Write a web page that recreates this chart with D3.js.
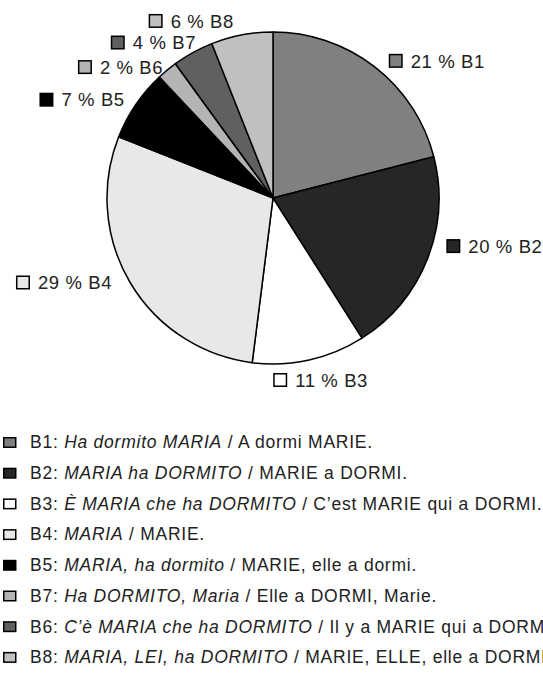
<!DOCTYPE html>
<html>
<head>
<meta charset="utf-8">
<script src="https://cdn.jsdelivr.net/npm/d3@7"></script>
<style>
  body { margin: 0; background: #fff; }
  svg { display: block; font-family: "Liberation Sans", Arial, sans-serif; }
</style>
</head>
<body>
<svg id="chart" width="543" height="674"></svg>
<script>
// data
const categories = ["B1", "B2", "B3", "B4", "B5", "B6", "B7", "B8"];
const values = [21, 20, 11, 29, 7, 2, 4, 6];
const fills = ["#808080", "#262626", "#ffffff", "#e8e8e8", "#000000", "#b4b4b4", "#606060", "#c0c0c0"];

// legend rows (swatch i takes the colour of slice i, as in the original)
const legendKeys = ["B1", "B2", "B3", "B4", "B5", "B7", "B6", "B8"];
const legendItalic = [
  "Ha dormito MARIA",
  "MARIA ha DORMITO",
  "È MARIA che ha DORMITO",
  "MARIA",
  "MARIA, ha dormito",
  "Ha DORMITO, Maria",
  "C’è MARIA che ha DORMITO",
  "MARIA, LEI, ha DORMITO"
];
const legendPlain = [
  "A dormi MARIE.",
  "MARIE a DORMI.",
  "C’est MARIE qui a DORMI.",
  "MARIE.",
  "MARIE, elle a dormi.",
  "Elle a DORMI, Marie.",
  "Il y a MARIE qui a DORMI.",
  "MARIE, ELLE, elle a DORMI."
];

// label nudges from the slice edge point (layout only)
const labelNudge = [[14, -6], [19, -13], [-36, 20], [-18, 0], [-11, -5], [-4, -3], [3, -10], [-8, -14]];

const svg = d3.select("#chart");
const cx = 273, cy = 198, radius = 166;

const pie = d3.pie().sort(null).value(d => d.value);
const arc = d3.arc().innerRadius(0).outerRadius(radius);

const slices = pie(categories.map((c, i) => ({ key: c, value: values[i], fill: fills[i] })));

const g = svg.append("g").attr("transform", `translate(${cx},${cy})`);

g.selectAll("path.slice")
  .data(slices)
  .join("path")
  .attr("class", "slice")
  .attr("d", arc)
  .attr("fill", d => d.data.fill)
  .attr("stroke", "#000")
  .attr("stroke-width", 1.5)
  .attr("stroke-linejoin", "round");

// slice labels
slices.forEach((d, i) => {
  const mid = (d.startAngle + d.endAngle) / 2;
  const ax = radius * Math.sin(mid);
  const ay = -radius * Math.cos(mid);
  const right = Math.sin(mid) >= 0;
  const [dx, dy] = labelNudge[i];

  const lg = g.append("g");
  const txt = lg.append("text")
    .attr("font-size", 18.5)
    .attr("letter-spacing", 0.6)
    .attr("fill", "#222")
    .attr("dy", "0.36em")
    .text(`${d.data.value} % ${d.data.key}`);
  const w = txt.node().getComputedTextLength();

  const sw = 14, gap = 8;
  const left = right ? ax + dx : ax + dx - w - sw - gap;
  const yc = ay + dy;

  lg.insert("rect", "text")
    .attr("x", left + 0.75)
    .attr("y", yc - sw / 2 + 0.75)
    .attr("width", sw - 1.5)
    .attr("height", sw - 1.5)
    .attr("fill", d.data.fill)
    .attr("stroke", "#000")
    .attr("stroke-width", 1.5);
  txt.attr("x", left + sw + gap).attr("y", yc);
});

// legend
const legendTop = 442, legendStep = 30.7;
const legend = svg.append("g");
legendKeys.forEach((k, i) => {
  const y = legendTop + i * legendStep;
  legend.append("rect")
    .attr("x", 3.75)
    .attr("y", y - 5 + 0.75)
    .attr("width", 12)
    .attr("height", 9.5)
    .attr("fill", fills[i])
    .attr("stroke", "#000")
    .attr("stroke-width", 1.5);
  const t = legend.append("text")
    .attr("x", 30)
    .attr("y", y)
    .attr("dy", "0.36em")
    .attr("font-size", 17.5)
    .attr("letter-spacing", 0.75)
    .attr("fill", "#222");
  t.append("tspan").text(`${k}: `);
  t.append("tspan").attr("font-style", "italic").text(legendItalic[i]);
  t.append("tspan").text(" / " + legendPlain[i]);
});
</script>
</body>
</html>
